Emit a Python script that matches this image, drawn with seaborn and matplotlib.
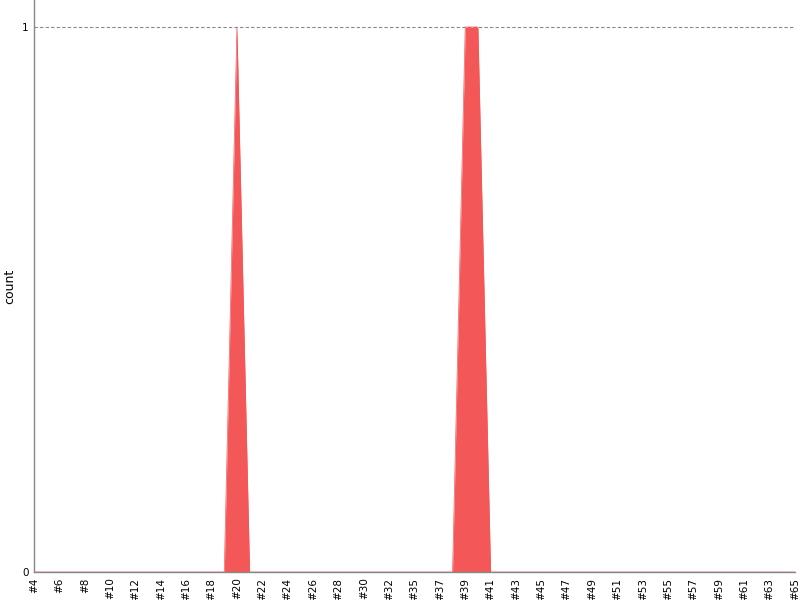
import numpy as np
import matplotlib
matplotlib.use("Agg")
import matplotlib.pyplot as plt
import seaborn as sns

ids = list(range(4, 33)) + [33] + list(range(35, 66))
labels = [f"#{i}" for i in ids]
counts = [0] * len(ids)
for hit in (20, 39, 40):
    counts[ids.index(hit)] = 1

sns.set_style("white")
plt.rcParams['font.family'] = ['DejaVu Sans']

fig = plt.figure(figsize=(8, 6), dpi=100)
ax = fig.add_axes([34 / 800, 28 / 600, 761 / 800, 572 / 600])

x = np.arange(len(ids))
color = "#f45757"
ax.fill_between(x, counts, color=color, linewidth=0)
sns.lineplot(x=x, y=counts, ax=ax, color=color, linewidth=0.5)

ax.set_xlim(0, len(ids) - 1)
ax.set_ylim(0, 572 / 545)
ax.set_xticks(x[::2])
ax.set_xticklabels(labels[::2], rotation=90, fontsize=7.5)
ax.set_yticks([0, 1])
ax.set_yticklabels(["0", "1"], fontsize=7.5)
ax.tick_params(axis="both", length=3, width=0.8, color="#888888",
               labelcolor="black", pad=1)
ax.axhline(1, color="#888888", linestyle=(0, (3, 2)), linewidth=0.8, zorder=0)
ax.set_ylabel("count", fontsize=9, color="black")
ax.set_xlabel("")

sns.despine(ax=ax)
for s in ("left", "bottom"):
    ax.spines[s].set_color("#888888")
    ax.spines[s].set_linewidth(1)

fig.savefig("out.png", dpi=100)
